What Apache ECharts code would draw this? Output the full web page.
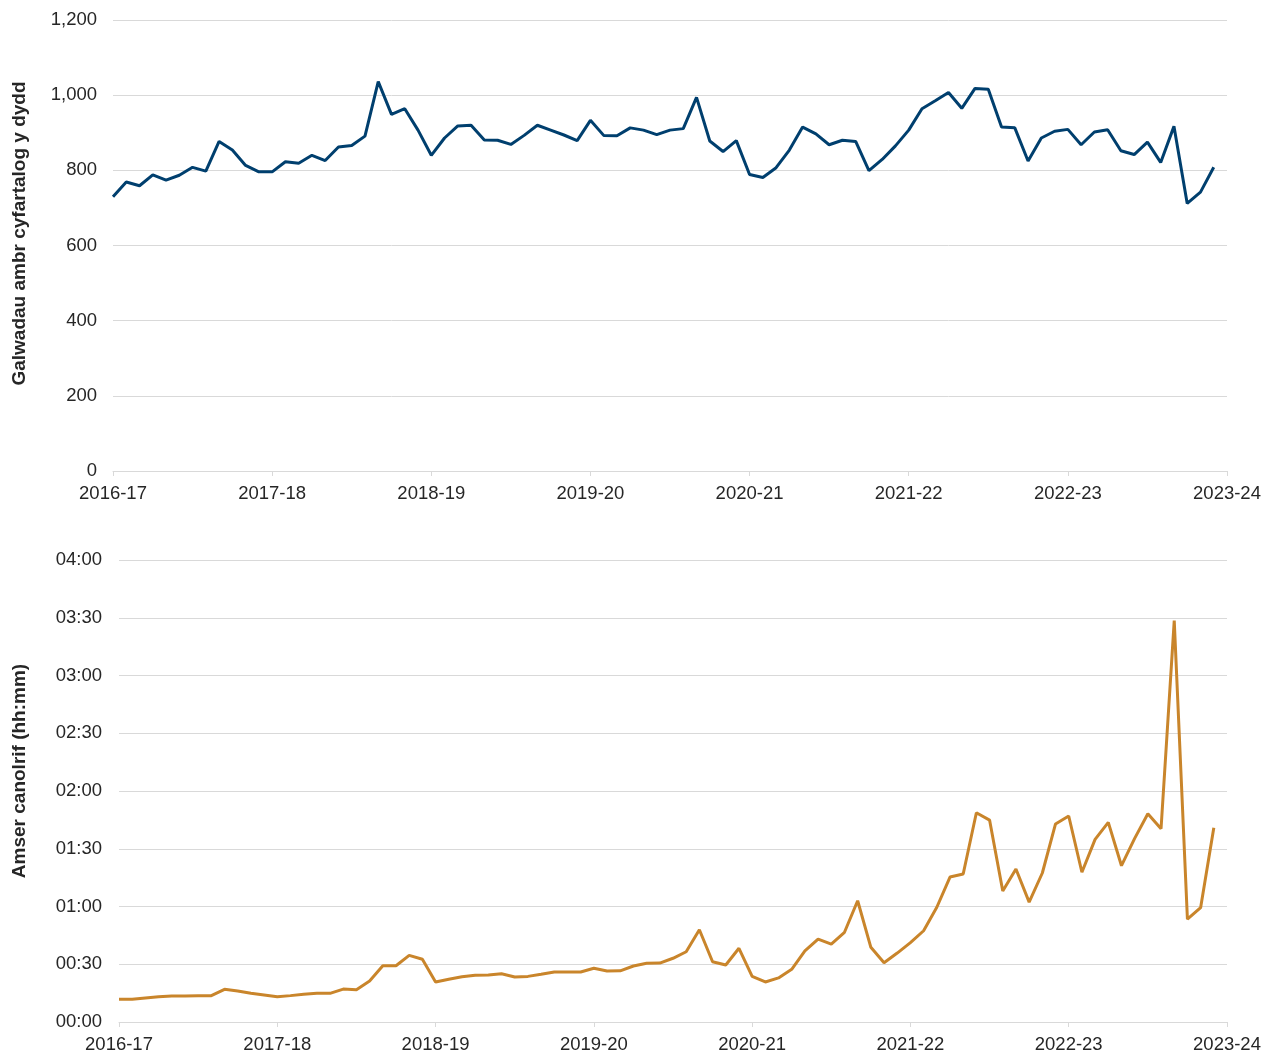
<!DOCTYPE html>
<html>
<head>
<meta charset="utf-8">
<script src="https://cdn.jsdelivr.net/npm/echarts@6/dist/echarts.min.js"></script>
<style>
  html, body { margin: 0; padding: 0; background: #fff; }
  #chart { width: 1273px; height: 1055px; }
</style>
</head>
<body>
<div id="chart"></div>
<script>
// year labels, one every 12 months (April 2016 onwards)
const yearLabels = ['2016-17', '2017-18', '2018-19', '2019-20', '2020-21', '2021-22', '2022-23', '2023-24']

// average amber calls per day, monthly
const amberCalls = [
  730, 769, 759, 788, 774, 787, 808, 798, 877, 854,
  813, 796, 796, 823, 819, 840, 826, 862, 866, 891,
  1036, 949, 964, 907, 840, 886, 918, 920, 881, 880,
  869, 893, 920, 907, 894, 879, 933, 893, 892, 913,
  907, 895, 907, 911, 994, 878, 850, 879, 789, 781,
  807, 854, 915, 897, 868, 880, 877, 799, 829, 865,
  907, 964, 985, 1007, 965, 1018, 1016, 915, 913, 825,
  886, 904, 909, 868, 902, 908, 852, 842, 875, 821,
  917, 712, 742, 808
]

// median response time, minutes, monthly
const medianMinutes = [
  11.8, 11.8, 12.5, 13.1, 13.5, 13.5, 13.7, 13.7, 17.0, 16.1,
  14.9, 14.0, 13.1, 13.7, 14.4, 14.9, 14.9, 17.1, 16.8, 21.3,
  29.2, 29.2, 34.6, 32.6, 20.8, 22.2, 23.5, 24.3, 24.4, 25.1,
  23.4, 23.7, 24.8, 26.0, 26.0, 26.0, 27.9, 26.5, 26.6, 29.1,
  30.5, 30.6, 33.1, 36.5, 47.9, 31.3, 29.6, 38.3, 23.7, 20.8,
  22.9, 27.4, 36.9, 43.1, 40.5, 46.6, 63.0, 38.8, 30.8, 35.8,
  41.2, 47.4, 59.6, 75.3, 76.9, 108.7, 104.9, 68.1, 79.5, 62.3,
  77.4, 102.9, 107.0, 77.8, 94.9, 103.7, 81.2, 95.4, 108.2, 100.4,
  208.5, 53.4, 59.4, 100.9
]

const textColor = '#262626'
const gridColor = '#d9d9d9'
const font = 'Liberation Sans, Arial, sans-serif'

const hhmm = (m) => {
  const h = Math.floor(m / 60)
  const mm = Math.round(m % 60)
  return String(h).padStart(2, '0') + ':' + String(mm).padStart(2, '0')
}

const makeXAxis = (gridIndex) => ({
  type: 'value',
  gridIndex,
  min: 0,
  max: 84,
  interval: 12,
  axisLine: { show: true, lineStyle: { color: gridColor, width: 1 } },
  axisTick: { show: true, length: 5, lineStyle: { color: gridColor } },
  splitLine: { show: false },
  axisLabel: {
    color: textColor,
    fontFamily: font,
    fontSize: 18.5,
    margin: 13,
    formatter: v => yearLabels[Math.round(v / 12)]
  }
})

const chart = echarts.init(document.getElementById('chart'))

chart.setOption({
  animation: false,
  grid: [
    { left: 113, right: 46, top: 20, height: 451 },
    { left: 119, right: 46, top: 560, height: 462 }
  ],
  xAxis: [makeXAxis(0), makeXAxis(1)],
  yAxis: [
    {
      type: 'value',
      gridIndex: 0,
      min: 0,
      max: 1200,
      interval: 200,
      name: 'Galwadau ambr cyfartalog y dydd',
      nameLocation: 'middle',
      nameGap: 84,
      nameTextStyle: {
        color: textColor, fontFamily: font, fontSize: 19, fontWeight: 'bold',
        padding: [0, 0, 0, 24]
      },
      axisLine: { show: false },
      axisTick: { show: false },
      splitLine: { lineStyle: { color: gridColor, width: 1 } },
      axisLabel: {
        color: textColor,
        fontFamily: font,
        fontSize: 18.5,
        margin: 16,
        formatter: v => v.toLocaleString('en-GB')
      }
    },
    {
      type: 'value',
      gridIndex: 1,
      min: 0,
      max: 240,
      interval: 30,
      name: 'Amser canolrif (hh:mm)',
      nameLocation: 'middle',
      nameGap: 90,
      nameTextStyle: {
        color: textColor, fontFamily: font, fontSize: 19, fontWeight: 'bold',
        padding: [0, 0, 0, 40]
      },
      axisLine: { show: false },
      axisTick: { show: false },
      splitLine: { lineStyle: { color: gridColor, width: 1 } },
      axisLabel: {
        color: textColor,
        fontFamily: font,
        fontSize: 18.5,
        margin: 17,
        formatter: v => hhmm(v)
      }
    }
  ],
  series: [
    {
      type: 'line',
      xAxisIndex: 0,
      yAxisIndex: 0,
      data: amberCalls.map((v, i) => [i, v]),
      showSymbol: false,
      lineStyle: { color: '#003f6e', width: 3 },
      itemStyle: { color: '#003f6e' }
    },
    {
      type: 'line',
      xAxisIndex: 1,
      yAxisIndex: 1,
      data: medianMinutes.map((v, i) => [i, v]),
      showSymbol: false,
      lineStyle: { color: '#c9852b', width: 3 },
      itemStyle: { color: '#c9852b' }
    }
  ]
})
</script>
</body>
</html>
